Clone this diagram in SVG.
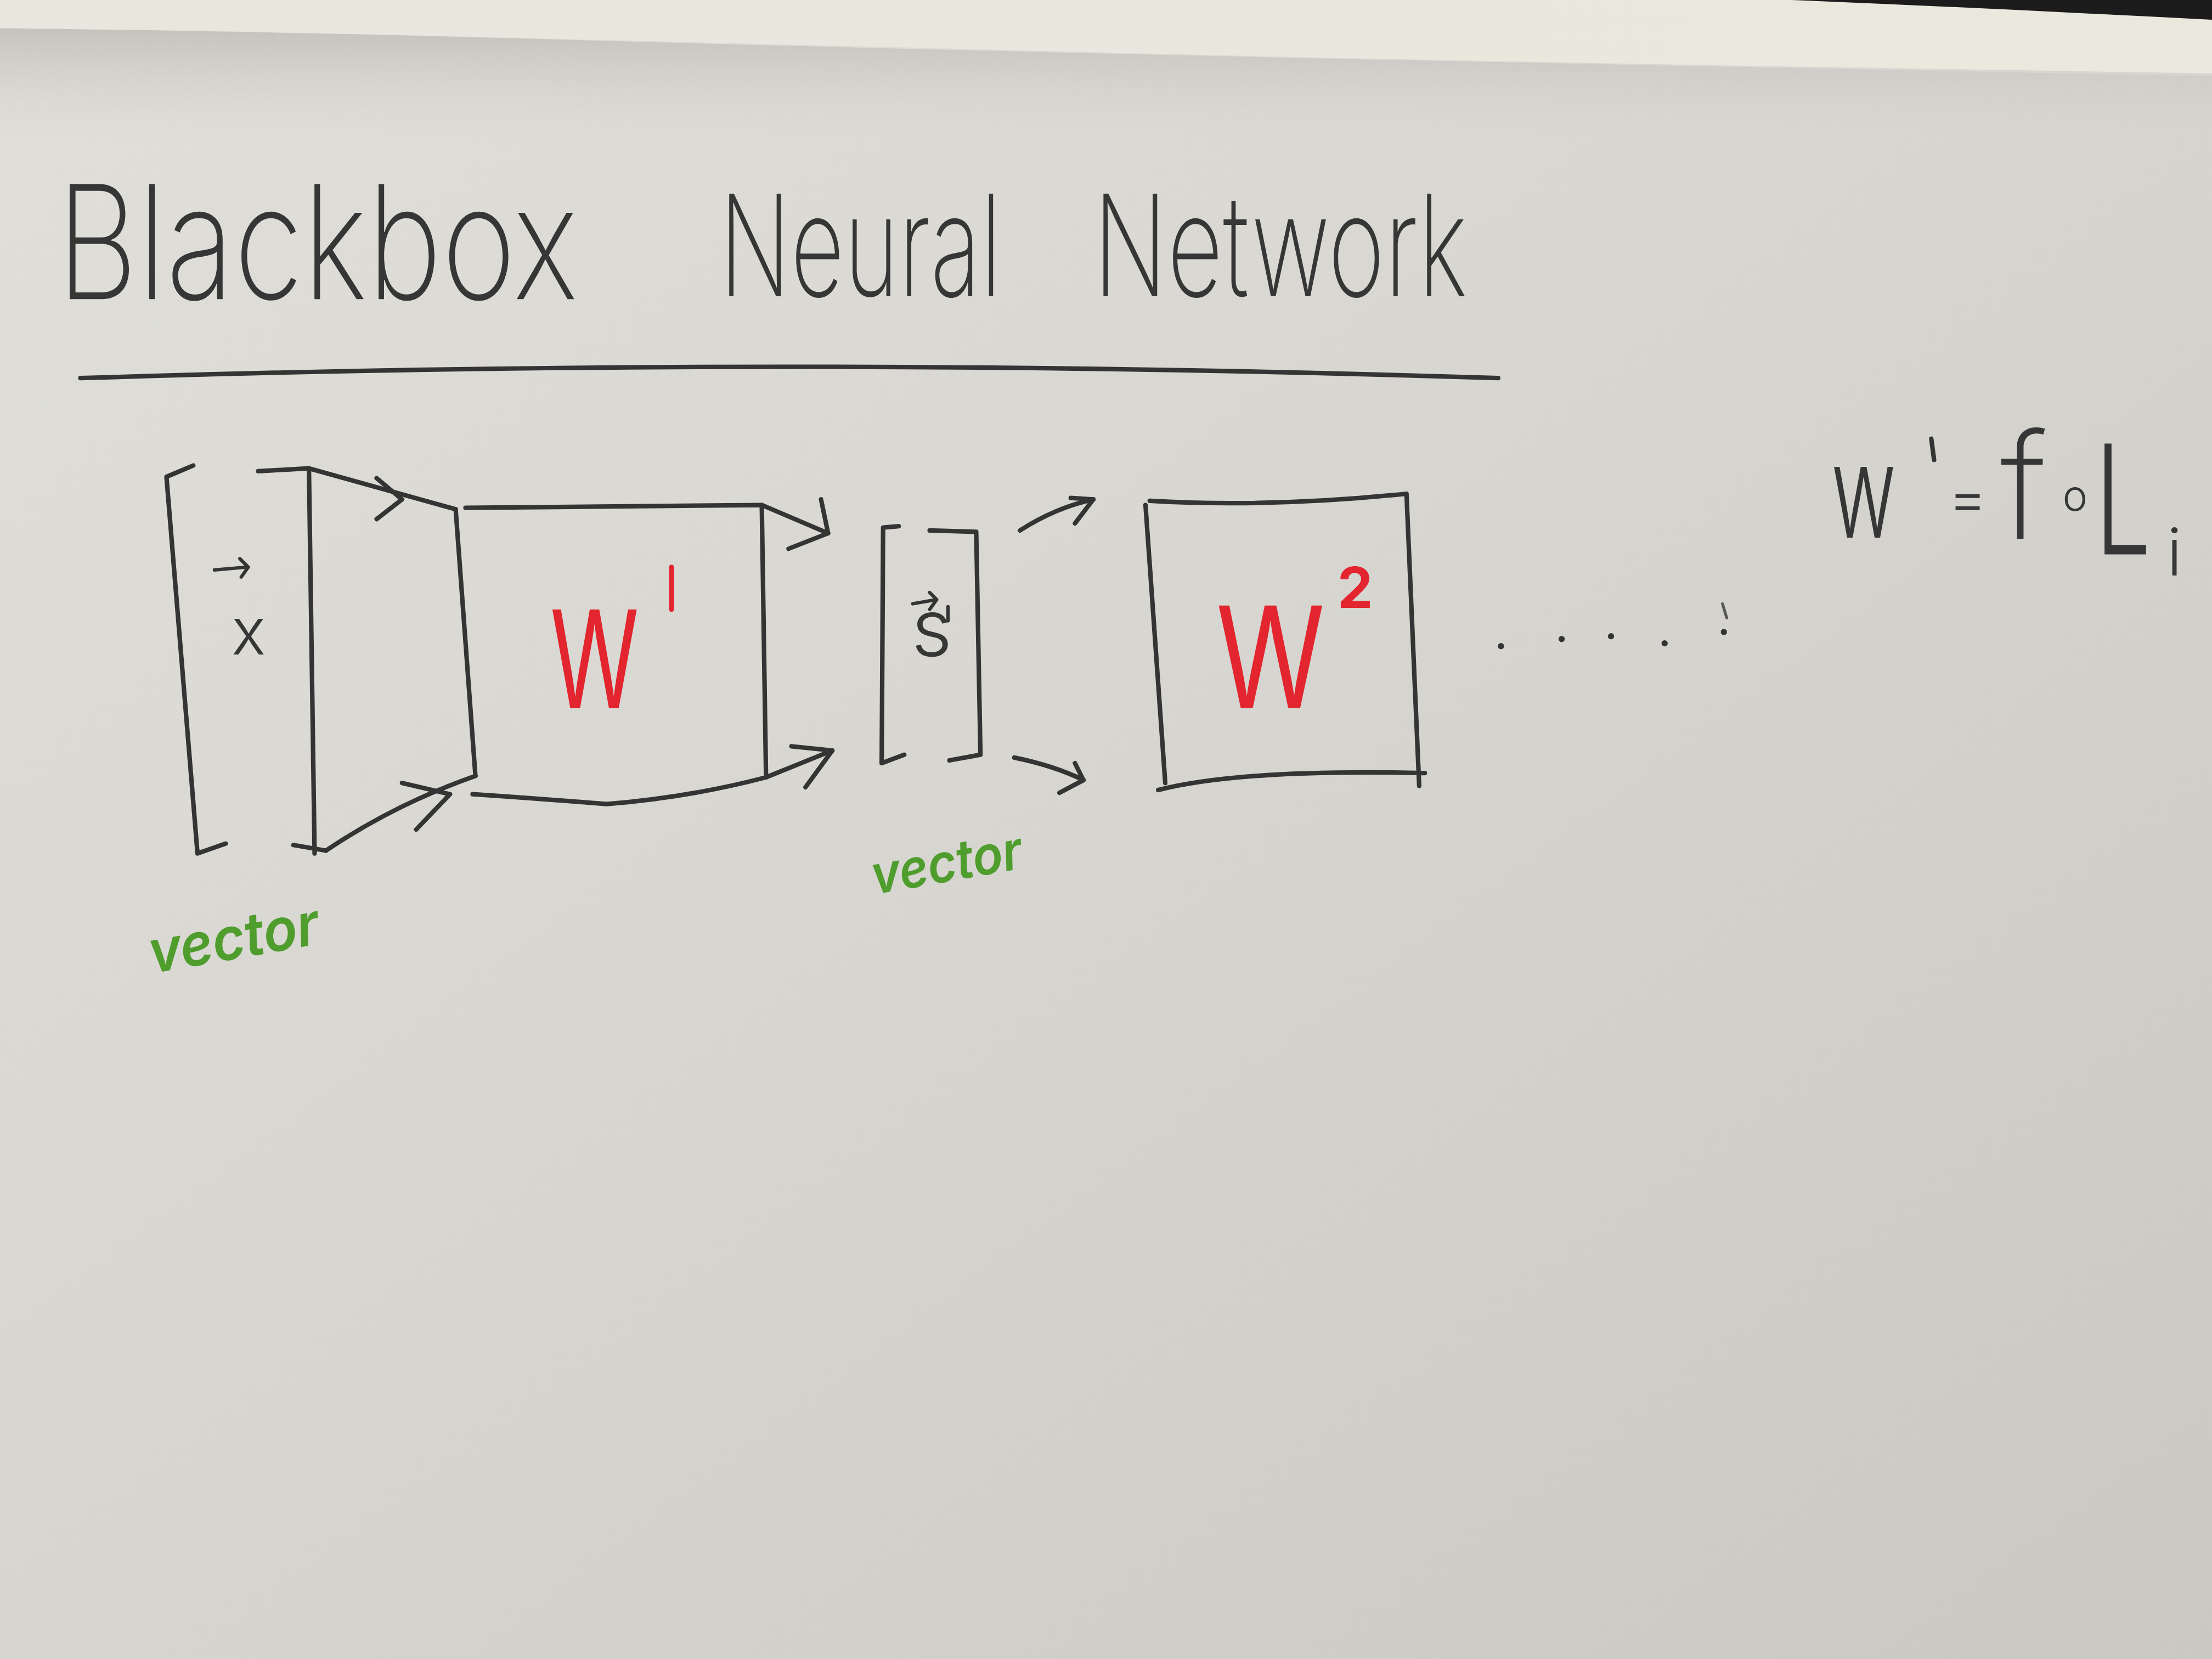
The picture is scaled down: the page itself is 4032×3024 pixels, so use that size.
<svg xmlns="http://www.w3.org/2000/svg" width="4032" height="3024" viewBox="0 0 4032 3024">
<defs>
<linearGradient id="board" x1="0" y1="0" x2="1" y2="1">
<stop offset="0" stop-color="#e0dfda"/>
<stop offset="0.45" stop-color="#d8d6d1"/>
<stop offset="1" stop-color="#cac8c3"/>
</linearGradient>
<linearGradient id="shade" x1="0" y1="0" x2="0" y2="1">
<stop offset="0" stop-color="#b9b7b2" stop-opacity="0.75"/>
<stop offset="1" stop-color="#d6d4cf" stop-opacity="0"/>
</linearGradient>
<linearGradient id="paper" x1="0" y1="0" x2="1" y2="0">
<stop offset="0" stop-color="#e8e6dd"/>
<stop offset="1" stop-color="#ebe8de"/>
</linearGradient>
<style>
.ink{fill:none;stroke:#343434;stroke-width:3.2;stroke-linecap:round;stroke-linejoin:round}
.thin{stroke-width:2.4}
.hand{font-family:Inter,Lato,"Liberation Sans",sans-serif;font-weight:200;fill:#363636}
.red{font-family:Inter,Lato,"Liberation Sans",sans-serif;font-weight:300;fill:#e2252e}
.green{font-family:Inter,Lato,"Liberation Sans",sans-serif;font-weight:600;fill:#4f9d2d;font-style:italic}
</style>
</defs>
<rect width="4032" height="3024" fill="url(#board)"/>
<g transform="scale(2.5714286)">
<g id="background">
<path d="M0,18 C200,22 450,30 700,36 C950,42 1250,48 1568,54 L1568,100 L0,100 Z" fill="url(#shade)"/>
<path d="M0,0 L1568,0 L1568,52 C1250,47 950,42 700,35 C450,29 200,22 0,20 Z" fill="url(#paper)"/>
<path d="M1270,0 L1568,0 L1568,14 C1470,9 1370,4 1270,0 Z" fill="#1c1c1c"/>
</g>

<g id="title">
<text class="hand" transform="translate(40,212) scale(0.79,1)" font-size="112" textLength="468" lengthAdjust="spacingAndGlyphs">Blackbox</text>
<text class="hand" transform="translate(510,210) scale(0.68,1)" font-size="100" textLength="294" lengthAdjust="spacingAndGlyphs">Neural</text>
<text class="hand" transform="translate(775,210) scale(0.68,1)" font-size="100" textLength="390" lengthAdjust="spacingAndGlyphs">Network</text>
<path class="ink" d="M57,268 Q560,252 1062,268"/>
</g>

<g id="node-x">
<path class="ink" d="M137,330 L118,338 L140,605 L160,598"/>
<path class="ink" d="M183,334 L219,332 L223,605 M208,599 L231,603"/>
<text class="hand" x="164" y="464" font-size="46" style="font-weight:300">x</text>
<path class="ink thin" d="M152,404 L175,402 M170,396 L176,402 L171,409"/>
</g>

<g id="node-W1">
<path class="ink" d="M330,360 L540,358 L543,551 Q490,565 430,570 Q380,566 335,563 M323,361 L337,550"/>
<text class="red" transform="translate(390,502) scale(0.67,1)" font-size="96" textLength="94" lengthAdjust="spacingAndGlyphs" style="font-weight:400">W</text>
<path d="M476,402 L476,432" stroke="#e2252e" stroke-width="3.5" stroke-linecap="round"/>
</g>

<g id="node-s">
<path class="ink" d="M637,373 L626,374 L625,541 L641,535"/>
<path class="ink" d="M659,376 L692,377 L695,535 L673,539"/>
<text class="hand" x="646" y="465" font-size="56" style="font-weight:300">s</text>
<path class="ink thin" d="M647,428 L664,425 M659,420 L664,425 L659,432"/>
<path class="ink thin" d="M672,430 L672,440"/>
</g>

<g id="node-W2">
<path class="ink" d="M815,355 Q900,360 997,350 L1006,557 M812,358 L826,555 M821,560 Q880,545 1010,548"/>
<text class="red" transform="translate(862,502) scale(0.78,1)" font-size="100" textLength="99" lengthAdjust="spacingAndGlyphs" style="font-weight:400">W</text>
<text class="red" x="948" y="431" font-size="40" style="font-weight:700">2</text>
</g>

<g id="ellipsis" fill="#333">
<circle cx="1064" cy="458" r="2.2"/>
<circle cx="1107" cy="453" r="2.2"/>
<circle cx="1142" cy="451" r="2.2"/>
<circle cx="1180" cy="456" r="2.2"/>
<circle cx="1222" cy="448" r="2.2"/>
<path d="M1221,428 L1224,438" stroke="#555" stroke-width="2" fill="none" stroke-linecap="round"/>
</g>

<g id="equation">
<text class="hand" transform="translate(1298,381) scale(0.72,1)" font-size="92" textLength="64" lengthAdjust="spacingAndGlyphs" style="font-weight:300">w</text>
<path class="ink" d="M1369,311 L1371,326"/>
<text class="hand" x="1381" y="368" font-size="42" style="font-weight:300">=</text>
<text class="hand" x="1418" y="382" font-size="104" style="font-weight:200">f</text>
<text class="hand" x="1462" y="362" font-size="30" style="font-weight:300">o</text>
<text class="hand" transform="translate(1485,393) scale(0.8,1)" font-size="108" textLength="50" lengthAdjust="spacingAndGlyphs" style="font-weight:300">L</text>
<text class="hand" x="1536" y="408" font-size="46" style="font-weight:300">i</text>
</g>

<g id="labels">
<text class="green" x="108" y="690" font-size="42" transform="rotate(-10 108 690)" textLength="122" lengthAdjust="spacingAndGlyphs">vector</text>
<text class="green" x="620" y="634" font-size="38" transform="rotate(-10 620 634)" textLength="108" lengthAdjust="spacingAndGlyphs">vector</text>
</g>

<g id="connectors" class="ink">
<path class="ink" d="M219,332 L323,361"/>
<path class="ink" d="M267,339 L285,354 L267,368"/>
<path class="ink" d="M231,603 Q280,570 337,550"/>
<path class="ink" d="M285,555 L319,563 L295,588"/>
<path class="ink" d="M540,358 L587,378"/>
<path class="ink" d="M582,354 L587,378 L559,389"/>
<path class="ink" d="M543,551 L590,532"/>
<path class="ink" d="M561,529 L590,532 L571,558"/>
<path class="ink" d="M723,376 Q748,360 775,354"/>
<path class="ink" d="M759,353 L775,354 L762,371"/>
<path class="ink" d="M719,537 Q748,543 768,553"/>
<path class="ink" d="M762,541 L768,553 L751,562"/>
</g>
</g>
</svg>
